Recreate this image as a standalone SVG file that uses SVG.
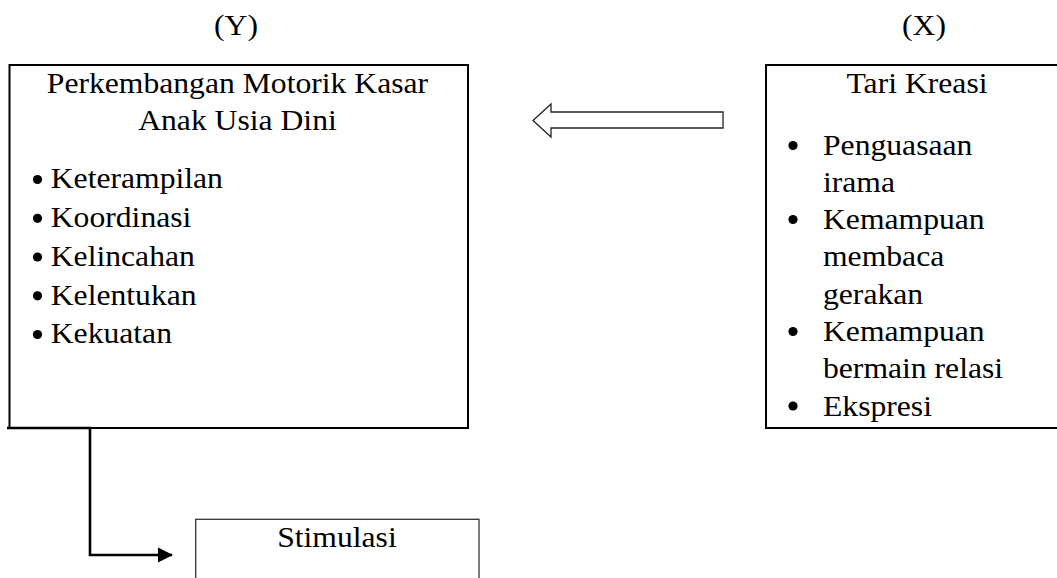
<svg xmlns="http://www.w3.org/2000/svg" width="1057" height="578" viewBox="0 0 1057 578">
<defs>
<style>
text{font-family:"Liberation Serif","Times New Roman",serif;font-size:30px;fill:#000}
.c{text-anchor:middle}
.dot{fill:#000}
.box{fill:#fff;stroke:#000;stroke-width:2}
.thin{fill:#fff;stroke:#333;stroke-width:1.3}
.conn{fill:none;stroke:#000;stroke-width:2.6}
</style>
<marker id="ah" markerUnits="userSpaceOnUse" markerWidth="16" markerHeight="16" refX="14" refY="7.5" orient="auto" viewBox="0 0 16 15">
<path d="M0,0 L15,7.5 L0,15 Z" fill="#000"/>
</marker>
</defs>
<rect width="1057" height="578" fill="#fff"/>
<g id="labels" transform="scale(1.055,1)">
<text class="c" x="223.7" y="35">(Y)</text>
<text class="c" x="875.8" y="35">(X)</text>
</g>
<g id="node-y">
<rect class="box" x="9.5" y="65" width="458.5" height="363"/>
<circle class="dot" cx="37.5" cy="179.5" r="4.6"/>
<circle class="dot" cx="37.5" cy="218.3" r="4.6"/>
<circle class="dot" cx="37.5" cy="257" r="4.6"/>
<circle class="dot" cx="37.5" cy="295.8" r="4.6"/>
<circle class="dot" cx="37.5" cy="334.5" r="4.6"/>
<g transform="scale(1.055,1)">
<text class="c" x="225.1" y="93">Perkembangan Motorik Kasar</text>
<text class="c" x="225.1" y="130">Anak Usia Dini</text>
<text x="48.1" y="188.5">Keterampilan</text>
<text x="48.1" y="227.3">Koordinasi</text>
<text x="48.1" y="266">Kelincahan</text>
<text x="48.1" y="304.8">Kelentukan</text>
<text x="48.1" y="343.5">Kekuatan</text>
</g>
</g>
<g id="node-x">
<rect class="box" x="766" y="65" width="300" height="363"/>
<circle class="dot" cx="793" cy="145.5" r="4.6"/>
<circle class="dot" cx="793" cy="219.5" r="4.6"/>
<circle class="dot" cx="793" cy="331.5" r="4.6"/>
<circle class="dot" cx="793" cy="406" r="4.6"/>
<g transform="scale(1.055,1)">
<text class="c" x="869.2" y="93">Tari Kreasi</text>
<text x="780.1" y="155">Penguasaan</text>
<text x="780.1" y="191.7">irama</text>
<text x="780.1" y="229">Kemampuan</text>
<text x="780.1" y="266.3">membaca</text>
<text x="780.1" y="303.6">gerakan</text>
<text x="780.1" y="341">Kemampuan</text>
<text x="780.1" y="378.3">bermain relasi</text>
<text x="780.1" y="415.6">Ekspresi</text>
</g>
</g>
<g id="node-stimulasi">
<rect class="thin" x="195.7" y="519.3" width="283.3" height="80"/>
<g transform="scale(1.055,1)">
<text class="c" x="319.4" y="546.7">Stimulasi</text>
</g>
</g>
<g id="connectors">
<polygon points="533,120.5 551,104 551,112 723,112 723,128 551,128 551,137" fill="#fff" stroke="#222" stroke-width="1.3" stroke-linejoin="miter"/>
<path class="conn" d="M7,428 H90 V555 H172" marker-end="url(#ah)"/>
</g>
</svg>
